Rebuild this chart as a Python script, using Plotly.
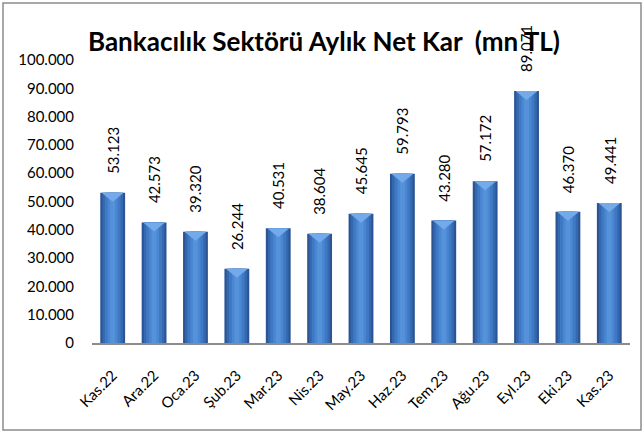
import plotly.graph_objects as go

categories = ["Kas.22", "Ara.22", "Oca.23", "Şub.23", "Mar.23", "Nis.23", "May.23",
              "Haz.23", "Tem.23", "Ağu.23", "Eyl.23", "Eki.23", "Kas.23"]
net_kar = [53123, 42573, 39320, 26244, 40531, 38604, 45645,
           59793, 43280, 57172, 89071, 46370, 49441]
y_ticks = [0, 10000, 20000, 30000, 40000, 50000, 60000, 70000, 80000, 90000, 100000]
title_text = "Bankacılık Sektörü Aylık Net Kar  (mn TL)"

FONT = "Lato, Open Sans, sans-serif"

fig = go.Figure()
# cylinder-like shading via stacked overlay bars of decreasing width
layers = [(0.60, "#2A5493"), (0.50, "#3568AE"), (0.38, "#3F79C4"), (0.24, "#4A87D2"), (0.12, "#5692DA")]
for w, c in layers:
    fig.add_trace(go.Bar(x=categories, y=net_kar, width=w, marker=dict(color=c, line=dict(width=0)),
                         hoverinfo="skip", showlegend=False))

for i, (c, v) in enumerate(zip(categories, net_kar)):
    # light cap at the top of each bar
    fig.add_shape(type="path", xref="x", yref="y", xsizemode="pixel", ysizemode="pixel",
                  xanchor=i, yanchor=v, path="M -11 0 L 11 0 L 0 -9 Z",
                  fillcolor="#74A9EA", line=dict(width=0), layer="above")
    fig.add_annotation(x=c, y=v, text=f"{v:,}".replace(",", "."), textangle=-90,
                       showarrow=False, yanchor="bottom", xanchor="center", yshift=17,
                       font=dict(family=FONT, size=15, color="#000000"))

fig.add_shape(type="rect", xref="paper", yref="paper",
              x0=(3 - 92) / 538, x1=(641 - 92) / 538,
              y0=(343 - 430) / 283, y1=(343 - 3) / 283,
              line=dict(color="#8C8C8C", width=1.5), fillcolor="rgba(0,0,0,0)", layer="below")

fig.update_layout(
    width=644, height=432,
    margin=dict(l=92, r=14, t=60, b=89, autoexpand=False),
    paper_bgcolor="white", plot_bgcolor="white",
    barmode="overlay",
    separators=",.",
    title=dict(text=title_text, x=324 / 644, xanchor="center", y=1 - 42 / 432, yanchor="middle",
               xref="container", yref="container",
               font=dict(family=FONT, size=26, color="#000000", weight="bold")),
    xaxis=dict(showline=True, linecolor="#8C8C8C", linewidth=1.5, ticks="", tickangle=-45,
               automargin=False, ticklabelstandoff=16,
               tickfont=dict(family=FONT, size=15, color="#000000"), showgrid=False),
    yaxis=dict(range=[0, 100000], tickvals=y_ticks, tickformat=",d", showgrid=False,
               showline=False, zeroline=False, ticklabelstandoff=17, automargin=False,
               tickfont=dict(family=FONT, size=15, color="#000000")),
    font=dict(family=FONT),
)

fig.write_html("out.html", config={"displayModeBar": False},
               post_script="document.body.style.margin='0';document.body.style.padding='0';")
